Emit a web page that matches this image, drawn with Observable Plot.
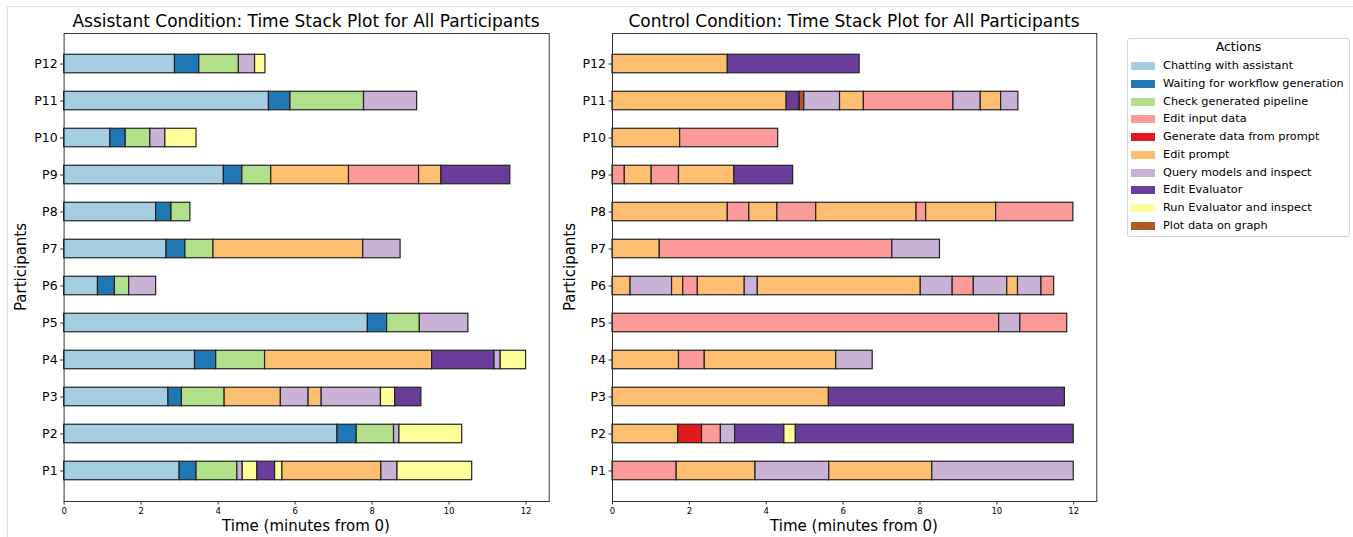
<!DOCTYPE html>
<html>
<head>
<meta charset="utf-8">
<script src="https://cdn.jsdelivr.net/npm/d3@7"></script>
<script src="https://cdn.jsdelivr.net/npm/@observablehq/plot@0.6"></script>
<style>
  html, body { margin: 0; padding: 0; background: #fff; }
  body { width: 1353px; height: 537px; position: relative; overflow: hidden; font-family: "DejaVu Sans", sans-serif; color: #000; }
  .abs { position: absolute; }
  .title { font-size: 17px; text-align: center; width: 600px; line-height: 20px; }
  .xlabel { font-size: 15px; text-align: center; width: 400px; line-height: 18px; }
  .ylabel { font-size: 15px; text-align: center; width: 200px; line-height: 18px; transform: rotate(-90deg); }
  #figborder { left: 7px; top: 6px; width: 1400px; height: 600px; border-left: 1px solid #e2e2e2; border-top: 1px solid #e2e2e2; }
  #legend { left: 1127px; top: 38px; width: 221px; height: 197px; border: 1px solid #d4d4d4; border-radius: 3px; background: #fff; }
  .lgtitle { font-size: 12.5px; width: 221px; text-align: center; line-height: 14px; }
  .lgitem { font-size: 11.3px; line-height: 14px; white-space: nowrap; }
  .sw { width: 24px; height: 8px; }
</style>
</head>
<body>
<div id="figborder" class="abs"></div>
<div id="root"></div>
<script>
// ---------------- data ----------------
const actions = [
  "Chatting with assistant",
  "Waiting for workflow generation",
  "Check generated pipeline",
  "Edit input data",
  "Generate data from prompt",
  "Edit prompt",
  "Query models and inspect",
  "Edit Evaluator",
  "Run Evaluator and inspect",
  "Plot data on graph"
];
const actionColors = ["#a6cee3","#1f78b4","#b2df8a","#fb9a99","#e31a1c","#fdbf6f","#cab2d6","#6a3d9a","#ffff99","#b15928"];
const participants = ["P12","P11","P10","P9","P8","P7","P6","P5","P4","P3","P2","P1"];
const xTicks = [0, 2, 4, 6, 8, 10, 12];

// [participant, action index, start (min), end (min)]
const assistantSegments = [
  ["P12",0,0,2.88],["P12",1,2.88,3.51],["P12",2,3.51,4.54],["P12",6,4.54,4.96],["P12",8,4.96,5.23],
  ["P11",0,0,5.32],["P11",1,5.32,5.88],["P11",2,5.88,7.79],["P11",6,7.79,9.17],
  ["P10",0,0,1.20],["P10",1,1.20,1.60],["P10",2,1.60,2.24],["P10",6,2.24,2.63],["P10",8,2.63,3.44],
  ["P9",0,0,4.15],["P9",1,4.15,4.63],["P9",2,4.63,5.38],["P9",5,5.38,7.40],["P9",3,7.40,9.22],["P9",5,9.22,9.80],["P9",7,9.80,11.59],
  ["P8",0,0,2.39],["P8",1,2.39,2.79],["P8",2,2.79,3.28],
  ["P7",0,0,2.66],["P7",1,2.66,3.15],["P7",2,3.15,3.88],["P7",5,3.88,7.77],["P7",6,7.77,8.74],
  ["P6",0,0,0.88],["P6",1,0.88,1.32],["P6",2,1.32,1.69],["P6",6,1.69,2.39],
  ["P5",0,0,7.89],["P5",1,7.89,8.39],["P5",2,8.39,9.24],["P5",6,9.24,10.50],
  ["P4",0,0,3.40],["P4",1,3.40,3.95],["P4",2,3.95,5.22],["P4",5,5.22,9.56],["P4",7,9.56,11.18],["P4",6,11.18,11.34],["P4",8,11.34,12.00],
  ["P3",0,0,2.71],["P3",1,2.71,3.06],["P3",2,3.06,4.17],["P3",5,4.17,5.63],["P3",6,5.63,6.35],["P3",5,6.35,6.69],["P3",6,6.69,8.23],["P3",8,8.23,8.60],["P3",7,8.60,9.28],
  ["P2",0,0,7.10],["P2",1,7.10,7.60],["P2",2,7.60,8.57],["P2",6,8.57,8.71],["P2",8,8.71,10.34],
  ["P1",0,0,3.00],["P1",1,3.00,3.44],["P1",2,3.44,4.50],["P1",6,4.50,4.64],["P1",8,4.64,5.02],["P1",7,5.02,5.48],["P1",8,5.48,5.67],["P1",5,5.67,8.24],["P1",6,8.24,8.66],["P1",8,8.66,10.60]
];

const controlSegments = [
  ["P12",5,0,3.00],["P12",7,3.00,6.43],
  ["P11",5,0,4.53],["P11",7,4.53,4.87],["P11",9,4.87,4.99],["P11",6,4.99,5.92],["P11",5,5.92,6.54],["P11",3,6.54,8.87],["P11",6,8.87,9.58],["P11",5,9.58,10.11],["P11",6,10.11,10.56],
  ["P10",5,0,1.76],["P10",3,1.76,4.31],
  ["P9",3,0,0.32],["P9",5,0.32,1.02],["P9",3,1.02,1.73],["P9",5,1.73,3.17],["P9",7,3.17,4.70],
  ["P8",5,0,3.00],["P8",3,3.00,3.56],["P8",5,3.56,4.29],["P8",3,4.29,5.30],["P8",5,5.30,7.91],["P8",3,7.91,8.16],["P8",5,8.16,9.98],["P8",3,9.98,11.99],
  ["P7",5,0,1.23],["P7",3,1.23,7.28],["P7",6,7.28,8.52],
  ["P6",5,0,0.47],["P6",6,0.47,1.55],["P6",5,1.55,1.84],["P6",3,1.84,2.22],["P6",5,2.22,3.44],["P6",6,3.44,3.78],["P6",5,3.78,8.02],["P6",6,8.02,8.85],["P6",3,8.85,9.40],["P6",6,9.40,10.27],["P6",5,10.27,10.55],["P6",6,10.55,11.16],["P6",3,11.16,11.49],
  ["P5",3,0,10.06],["P5",6,10.06,10.61],["P5",3,10.61,11.83],
  ["P4",5,0,1.73],["P4",3,1.73,2.40],["P4",5,2.40,5.82],["P4",6,5.82,6.77],
  ["P3",5,0,5.63],["P3",7,5.63,11.77],
  ["P2",5,0,1.71],["P2",4,1.71,2.33],["P2",3,2.33,2.82],["P2",6,2.82,3.19],["P2",7,3.19,4.47],["P2",8,4.47,4.77],["P2",7,4.77,12.00],
  ["P1",3,0,1.67],["P1",5,1.67,3.72],["P1",6,3.72,5.64],["P1",5,5.64,8.32],["P1",6,8.32,12.00]
];

// ---------------- drawing ----------------
const root = document.getElementById("root");

function toRows(segs) {
  return segs.map(([p, a, s, e]) => ({participant: p, action: actions[a], start: s, end: e}));
}

function makeChart(segs, marginLeft, marginRight) {
  return Plot.plot({
    width: 560,
    height: 537,
    marginLeft, marginRight,
    marginTop: 33,
    marginBottom: 36,
    style: {fontFamily: "DejaVu Sans", background: "transparent", color: "#000", overflow: "visible"},
    x: {domain: [0, 12.6], label: null},
    y: {type: "band", domain: participants, paddingInner: 0.5, paddingOuter: 0.575, round: false, label: null},
    color: {domain: actions, range: actionColors},
    marks: [
      Plot.barX(toRows(segs), {
        x1: "start", x2: "end", y: "participant", fill: "action",
        stroke: "#222", strokeWidth: 1.2
      }),
      Plot.frame({stroke: "#333", strokeWidth: 1}),
      Plot.axisX({ticks: xTicks, tickSize: 3.5, tickPadding: 2.5, fontSize: 8.5, label: null, stroke: "#333"}),
      Plot.axisY({tickSize: 3.5, tickPadding: 3, fontSize: 12.5, label: null, stroke: "#333"})
    ]
  });
}

function place(el, left, top) {
  el.classList.add("abs");
  el.style.left = left + "px";
  el.style.top = top + "px";
  root.appendChild(el);
  return el;
}

function addDiv(cls, text, left, top) {
  const d = document.createElement("div");
  d.className = cls;
  d.textContent = text;
  return place(d, left, top);
}

// charts
place(makeChart(assistantSegments, 63.6, 11.3), 0, 0);
place(makeChart(controlSegments, 62, 13.7), 550, 0);

// titles (centred over each frame)
addDiv("title", "Assistant Condition: Time Stack Plot for All Participants", 306 - 300, 10.5);
addDiv("title", "Control Condition: Time Stack Plot for All Participants", 854 - 300, 10.5);

// axis labels
addDiv("xlabel", "Time (minutes from 0)", 306 - 200, 517);
addDiv("xlabel", "Time (minutes from 0)", 854 - 200, 517);
addDiv("ylabel", "Participants", 21 - 100, 267 - 9);
addDiv("ylabel", "Participants", 569.5 - 100, 267 - 9);

// legend
const lg = document.createElement("div");
lg.id = "legend";
place(lg, 1127, 38);
const lt = document.createElement("div");
lt.className = "lgtitle abs";
lt.textContent = "Actions";
lt.style.left = "0px";
lt.style.top = (47.3 - 38 - 1 - 7) + "px";
lg.appendChild(lt);
actions.forEach((a, i) => {
  const cy = 66 + i * 17.78 - 38 - 1;
  const sw = document.createElement("div");
  sw.className = "sw abs";
  sw.style.background = actionColors[i];
  sw.style.left = "3px";
  sw.style.top = (cy - 4) + "px";
  lg.appendChild(sw);
  const t = document.createElement("div");
  t.className = "lgitem abs";
  t.textContent = a;
  t.style.left = "35px";
  t.style.top = (cy - 7) + "px";
  lg.appendChild(t);
});
</script>
</body>
</html>
